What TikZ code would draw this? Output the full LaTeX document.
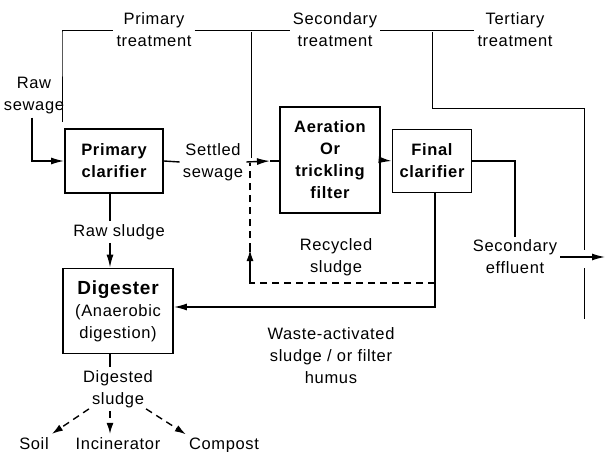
\documentclass[tikz,border=0pt]{standalone}
\usepackage{fontspec}
\setmainfont[LetterSpace=4]{Liberation Sans}
\usetikzlibrary{arrows.meta}
\newcommand{\txtsize}{\fontsize{16.5}{22}\selectfont}
\tikzset{
  box/.style={draw, line width=1.8pt, inner sep=0pt, align=center, font=\txtsize\bfseries},
  lbl/.style={align=center, inner sep=3pt},
  flow/.style={line width=1.4pt},
  arw/.style={flow, -{Latex[length=13pt,width=7pt]}},
  brk/.style={line width=0.8pt},
  dsh/.style={line width=1.4pt, dash pattern=on 7pt off 5pt},
  dsharw/.style={dsh, -{Latex[length=11pt,width=7pt]}},
}

\begin{document}
\begin{tikzpicture}[x=1pt,y=-1pt,font=\txtsize]
\useasboundingbox (0,0) rectangle (608,452);
\coordinate (P1) at (62,122);
\coordinate (P2) at (62,32);
\coordinate (S1) at (251,32);
\coordinate (S2) at (251,158);
\coordinate (T1) at (432,32);
\coordinate (T2) at (584,108);
\coordinate (T3) at (584,250);
\coordinate (T4) at (584,268);
\coordinate (T5) at (584,319);
\coordinate (R1) at (32,122);
\coordinate (A1) at (270,161);
\coordinate (F1) at (435,307);
\coordinate (C1) at (435,283);
\coordinate (C2) at (250,250);
\coordinate (C3) at (250,163);
\coordinate (E1) at (605,257);
\coordinate (X1) at (110,0);

  % boxes
  \node[box, minimum width=98pt, minimum height=64pt] (prim) at (114,161) {Primary\\clarifier};
  \node[box, minimum width=100pt, minimum height=106pt] (aer) at (330,160) {Aeration\\Or\\trickling\\filter};
  \node[box, minimum width=79pt, minimum height=63pt] (final) at (432,161) {Final\\clarifier};
  \node[box, font=\txtsize\mdseries, minimum width=110pt, minimum height=85pt] (dig) at (118,311) {{\fontsize{19}{22}\selectfont\bfseries Digester}\\(Anaerobic\\digestion)};

  % texts
  \node[lbl] (rawsew) at (34,96) {Raw\\sewage};
  \node[lbl] (primtr) at (154,30) {Primary\\treatment};
  \node[lbl] (sectr) at (335,30) {Secondary\\treatment};
  \node[lbl] (tertr) at (515,30) {Tertiary\\treatment};
  \node[lbl] (settled) at (213,162) {Settled\\sewage};
  \node[lbl] (rawsl) at (119,232) {Raw sludge};
  \node[lbl] (recyc) at (336,257) {Recycled\\sludge};
  \node[lbl] (seceff) at (515,257) {Secondary\\effluent};
  \node[lbl] (waste) at (331,356) {Waste-activated\\sludge / or filter\\humus};
  \node[lbl] (digsl) at (118,389) {Digested\\sludge};
  \node[lbl, anchor=base] (soil) at (34,449) {Soil};
  \node[lbl, anchor=base] (incin) at (118,449) {Incinerator};
  \node[lbl, anchor=base] (compost) at (224,449) {Compost};

  % treatment brackets
  \draw[brk] (P1) -- (P2) -- (P2 |- primtr.west) -- (primtr.west);
  \draw[brk] (primtr.east) -- (sectr.west);
  \draw[brk] (sectr.east) -- (tertr.west);
  \draw[brk] (S1) -- (S2);
  \draw[brk] (T1) |- (T2) -- (T3);
  \draw[brk] (T4) -- (T5);

  % main flow
  \draw[arw] (rawsew.south -| R1) |- (prim.west);
  \draw[flow] (prim.east) -- (settled.west);
  \draw[arw] (settled.east) -- (A1);
  \draw[flow] (A1) -- (A1 -| aer.west);
  \draw[arw] (aer.east) -- (final.west);
  \draw[flow] (final.east) -| (seceff.north);
  \draw[arw] (seceff.east) -- (E1);

  % sludge
  \draw[flow] (prim.south -| X1) -- (rawsl.north -| X1);
  \draw[arw] (rawsl.south -| X1) -- (dig.north -| X1);
  \draw[arw] (final.south -| F1) -- (F1) -- (dig.east |- F1);
  \draw[dsh] (C1) -| (C2);
  \draw[dsharw] (C2 |- C1) -- (C2);
  \draw[dsh] (C2) -- (C3);

  % digested sludge
  \draw[flow] (dig.south -| X1) -- (digsl.north -| X1);
  \draw[dsharw] (digsl.south west) ++(9,-2) -- (soil.north east);
  \draw[dsharw] (digsl.south -| X1) -- (incin.north -| X1);
  \draw[dsharw] (digsl.south east) ++(-10,-2) -- (compost.north west);
\end{tikzpicture}
\end{document}
